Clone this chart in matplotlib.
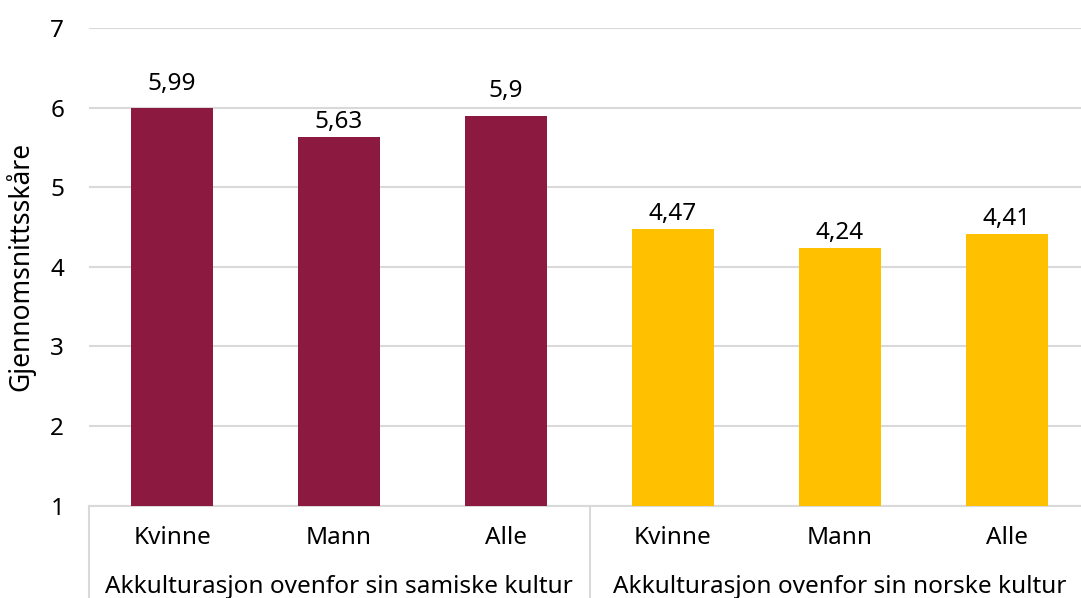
import matplotlib
matplotlib.use("Agg")
import matplotlib.pyplot as plt
from matplotlib.transforms import blended_transform_factory

# Values
groups = ["Akkulturasjon ovenfor sin samiske kultur", "Akkulturasjon ovenfor sin norske kultur"]
subcategories = ["Kvinne", "Mann", "Alle"]
samisk_values = [5.99, 5.63, 5.9]
norsk_values = [4.47, 4.24, 4.41]
value_labels = ["5,99", "5,63", "5,9", "4,47", "4,24", "4,41"]
y_ticks = [1, 2, 3, 4, 5, 6, 7]
y_label = "Gjennomsnittsskåre"

maroon = "#8C193F"
yellow = "#FFC000"
grid_col = "#D9D9D9"
fs = 17.5

plt.rcParams["font.family"] = ["Noto Sans", "DejaVu Sans"]

fig = plt.figure(figsize=(10.81, 5.98), dpi=100)
ax = fig.add_axes([88.5 / 1081, 1 - 505.7 / 598, (1090.5 - 88.5) / 1081, (505.7 - 28) / 598])

values = samisk_values + norsk_values
colors = [maroon] * len(samisk_values) + [yellow] * len(norsk_values)
x = list(range(len(values)))
bars = ax.bar(x, [v - 1 for v in values], bottom=1, width=0.49, color=colors, zorder=3)

# Value labels; a label whose bar ends just under a gridline is lifted clear of it
for xi, v, lab in zip(x, values, value_labels):
    near_grid = any(0 <= t - v < 0.15 for t in y_ticks)
    gap = 13.5 if near_grid else 6.5
    ax.annotate(lab, (xi, v), xytext=(0, gap), textcoords="offset points",
                ha="center", va="baseline", fontsize=fs, color="black")

ax.set_xlim(-0.5, len(values) - 0.5)
ax.set_ylim(1, 7)
ax.set_yticks(y_ticks)
ax.set_yticklabels([str(t) for t in y_ticks], fontsize=fs)
ax.yaxis.grid(True, color=grid_col, linewidth=1.5, zorder=0)
ax.tick_params(axis="y", length=0, pad=17.5)
ax.set_xticks([])
for s in ["top", "right", "left"]:
    ax.spines[s].set_visible(False)
ax.spines["bottom"].set_color(grid_col)
ax.spines["bottom"].set_linewidth(1.5)

ax.set_ylabel(y_label, fontsize=19, labelpad=11)

# Two-level category labels
trans = blended_transform_factory(ax.transData, ax.transAxes)
for xi, name in zip(x, subcategories * 2):
    ax.text(xi, -0.068, name, transform=trans, ha="center", va="center", fontsize=fs)
for gi, gname in enumerate(groups):
    center = gi * 3 + 1
    ax.text(center, -0.17, gname, transform=trans, ha="center", va="center", fontsize=fs)

# Group separators
for sx in [-0.5, 2.5, 5.5]:
    ax.plot([sx, sx], [0, -0.3], transform=trans, color=grid_col, linewidth=1.5, clip_on=False)

fig.savefig("out.png", dpi=100)
